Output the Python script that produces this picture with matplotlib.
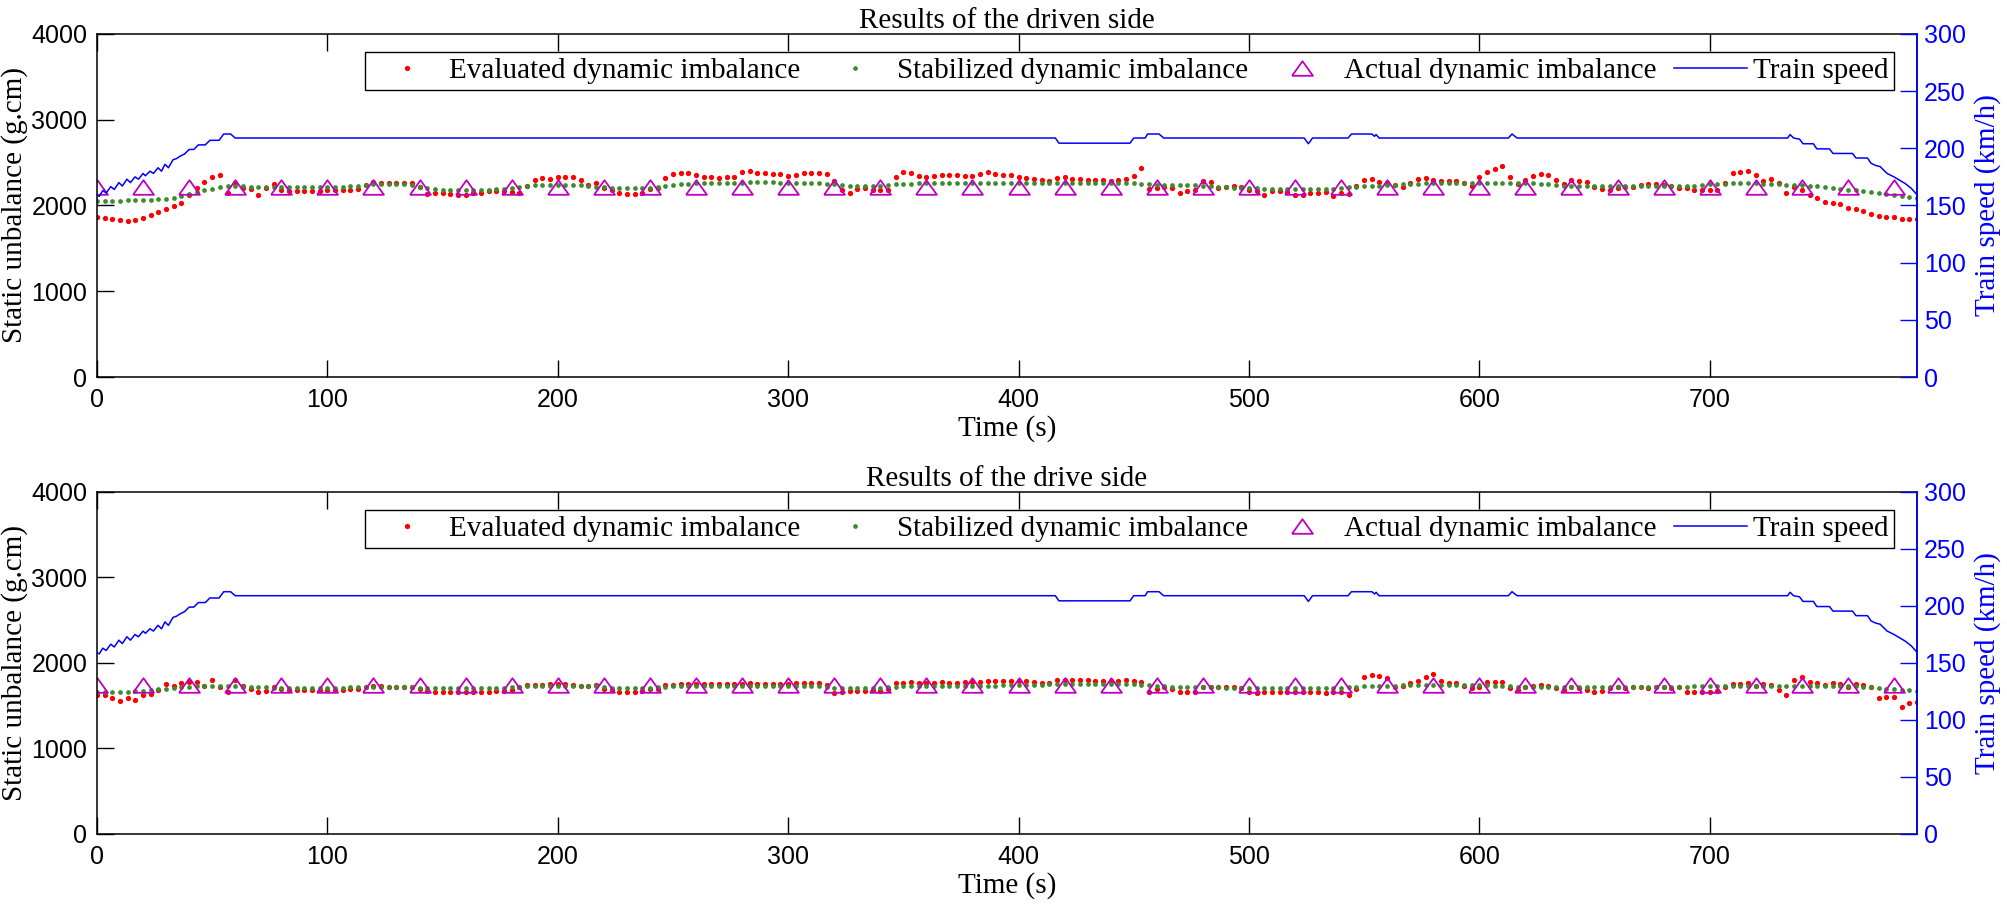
import numpy as np
import matplotlib
matplotlib.use("Agg")
import matplotlib.pyplot as plt

plt.rcParams['font.family'] = ['Liberation Sans', 'DejaVu Sans']
SERIF = 'Liberation Serif'

# sampling instants of the evaluated / stabilized estimates (every 10/3 s)
time = np.arange(238) * 10 / 3

# driven side, g.cm (6 values per 20 s)
driven_eval = [
    1870, 1855, 1840, 1825, 1820, 1830,  1855, 1885, 1920, 1955, 1990, 2030,
    2120, 2200, 2270, 2330, 2350, 2140,  2265, 2205, 2195, 2125, 2200, 2245,
    2175, 2165, 2165, 2165, 2170, 2170,  2175, 2178, 2180, 2182, 2190, 2235,
    2270, 2265, 2260, 2258, 2262, 2265,  2215, 2135, 2142, 2140, 2138, 2125,
    2128, 2140, 2150, 2165, 2172, 2170,  2160, 2150, 2225, 2295, 2315, 2310,
    2330, 2335, 2330, 2300, 2240, 2258,  2200, 2180, 2140, 2134, 2136, 2145,
    2195, 2200, 2320, 2370, 2383, 2380,  2356, 2330, 2328, 2320, 2328, 2330,
    2385, 2400, 2383, 2375, 2365, 2363,  2340, 2355, 2375, 2378, 2383, 2367,
    2290, 2180, 2140, 2190, 2200, 2185,  2180, 2175, 2330, 2385, 2380, 2340,
    2330, 2345, 2355, 2356, 2350, 2340,  2340, 2370, 2385, 2370, 2358, 2356,
    2328, 2320, 2305, 2295, 2280, 2325,  2328, 2305, 2305, 2297, 2297, 2297,
    2290, 2295, 2305, 2340, 2440, 2190,  2200, 2215, 2200, 2150, 2173, 2175,
    2280, 2270, 2205, 2220, 2227, 2220,  2180, 2172, 2125, 2172, 2172, 2162,
    2122, 2125, 2140, 2150, 2158, 2111,  2140, 2134, 2230, 2300, 2305, 2278,
    2260, 2240, 2210, 2260, 2310, 2320,  2300, 2288, 2280, 2286, 2260, 2225,
    2330, 2390, 2420, 2455, 2330, 2250,  2300, 2345, 2367, 2350, 2300, 2255,
    2300, 2285, 2270, 2215, 2190, 2175,  2205, 2210, 2220, 2235, 2255, 2245,
    2240, 2225, 2205, 2200, 2185, 2180,  2180, 2180, 2260, 2375, 2395, 2402,
    2360, 2290, 2310, 2260, 2150, 2215,  2185, 2122, 2090, 2040, 2030, 2015,
    1975, 1955, 1930, 1905, 1875, 1862,  1860, 1845, 1840, 1839,
]
driven_stab = [
    2055, 2055, 2058, 2058, 2060, 2062,  2065, 2068, 2072, 2078, 2090, 2105,
    2130, 2155, 2175, 2195, 2210, 2222,  2225, 2222, 2218, 2215, 2212, 2212,
    2210, 2210, 2212, 2214, 2215, 2215,  2215, 2216, 2220, 2225, 2232, 2240,
    2245, 2247, 2248, 2247, 2245, 2238,  2220, 2200, 2190, 2185, 2183, 2182,
    2180, 2180, 2182, 2185, 2188, 2192,  2200, 2215, 2228, 2236, 2240, 2240,
    2242, 2242, 2240, 2235, 2228, 2220,  2212, 2205, 2200, 2198, 2198, 2200,
    2205, 2215, 2225, 2235, 2245, 2252,  2258, 2262, 2265, 2266, 2266, 2266,
    2266, 2268, 2268, 2268, 2268, 2266,  2265, 2265, 2265, 2265, 2262, 2255,
    2245, 2235, 2228, 2225, 2225, 2228,  2232, 2238, 2245, 2250, 2255, 2258,
    2258, 2258, 2260, 2260, 2260, 2260,  2260, 2260, 2260, 2260, 2258, 2258,
    2258, 2258, 2258, 2260, 2262, 2264,  2266, 2266, 2266, 2266, 2266, 2266,
    2266, 2265, 2262, 2258, 2252, 2245,  2240, 2238, 2236, 2236, 2236, 2235,
    2230, 2225, 2218, 2210, 2205, 2202,  2200, 2198, 2196, 2194, 2192, 2190,
    2188, 2188, 2188, 2188, 2190, 2195,  2200, 2210, 2218, 2222, 2225, 2230,
    2235, 2240, 2245, 2250, 2254, 2257,  2258, 2258, 2258, 2258, 2260, 2262,
    2264, 2266, 2266, 2266, 2266, 2266,  2264, 2260, 2252, 2245, 2238, 2232,
    2228, 2226, 2225, 2224, 2224, 2224,  2225, 2225, 2226, 2226, 2226, 2226,
    2226, 2226, 2227, 2228, 2232, 2238,  2245, 2250, 2255, 2258, 2260, 2260,
    2258, 2255, 2250, 2245, 2240, 2240,  2240, 2232, 2225, 2215, 2205, 2195,
    2185, 2175, 2165, 2155, 2145, 2135,  2125, 2110, 2097, 2084,
]

# drive side, g.cm
drive_eval = [
    1630, 1620, 1595, 1560, 1590, 1567,  1620, 1638, 1684, 1754, 1731, 1770,
    1782, 1782, 1731, 1801, 1715, 1655,  1801, 1731, 1700, 1665, 1677, 1716,
    1690, 1680, 1684, 1680, 1684, 1680,  1680, 1684, 1684, 1690, 1700, 1715,
    1725, 1730, 1723, 1723, 1720, 1715,  1690, 1670, 1665, 1665, 1662, 1660,
    1660, 1660, 1665, 1665, 1668, 1670,  1680, 1720, 1740, 1745, 1745, 1750,
    1750, 1750, 1745, 1735, 1725, 1740,  1700, 1680, 1665, 1660, 1665, 1670,
    1690, 1700, 1740, 1745, 1750, 1750,  1754, 1754, 1750, 1754, 1758, 1754,
    1758, 1762, 1754, 1750, 1754, 1758,  1758, 1760, 1762, 1765, 1762, 1740,
    1653, 1660, 1677, 1677, 1670, 1680,  1677, 1700, 1770, 1770, 1775, 1770,
    1770, 1770, 1775, 1770, 1770, 1775,  1775, 1780, 1785, 1790, 1794, 1790,
    1790, 1785, 1775, 1765, 1760, 1800,  1801, 1805, 1801, 1798, 1795, 1795,
    1795, 1790, 1800, 1790, 1780, 1665,  1700, 1720, 1700, 1665, 1665, 1665,
    1723, 1723, 1720, 1723, 1723, 1710,  1665, 1650, 1665, 1660, 1665, 1660,
    1665, 1665, 1665, 1660, 1645, 1660,  1660, 1630, 1700, 1835, 1860, 1842,
    1829, 1723, 1731, 1770, 1790, 1833,  1868, 1793, 1770, 1762, 1731, 1705,
    1720, 1778, 1778, 1778, 1704, 1684,  1715, 1731, 1739, 1731, 1704, 1684,
    1723, 1704, 1684, 1665, 1677, 1710,  1716, 1710, 1720, 1716, 1712, 1718,
    1716, 1712, 1716, 1665, 1665, 1665,  1665, 1670, 1723, 1754, 1754, 1770,
    1730, 1754, 1743, 1684, 1626, 1801,  1833, 1782, 1762, 1743, 1762, 1754,
    1723, 1754, 1743, 1716, 1590, 1600,  1606, 1489, 1530, 1548,
]
drive_stab = [
    1665, 1665, 1665, 1665, 1665, 1668,  1672, 1680, 1690, 1700, 1712, 1720,
    1723, 1727, 1730, 1731, 1730, 1728,  1725, 1723, 1722, 1720, 1715, 1710,
    1705, 1704, 1704, 1704, 1704, 1705,  1706, 1708, 1710, 1714, 1718, 1721,
    1723, 1723, 1723, 1723, 1722, 1718,  1712, 1706, 1704, 1704, 1704, 1704,
    1704, 1704, 1704, 1705, 1708, 1712,  1718, 1724, 1729, 1731, 1731, 1731,
    1731, 1731, 1731, 1731, 1729, 1725,  1718, 1710, 1706, 1704, 1704, 1705,
    1708, 1714, 1720, 1726, 1730, 1731,  1731, 1732, 1733, 1733, 1732, 1731,
    1731, 1731, 1732, 1732, 1731, 1731,  1731, 1731, 1731, 1730, 1726, 1720,
    1712, 1706, 1704, 1704, 1704, 1706,  1710, 1716, 1722, 1727, 1730, 1731,
    1731, 1731, 1732, 1732, 1732, 1733,  1733, 1734, 1735, 1736, 1737, 1738,
    1740, 1742, 1745, 1748, 1751, 1753,  1754, 1754, 1755, 1755, 1755, 1754,
    1754, 1753, 1752, 1750, 1745, 1738,  1730, 1725, 1722, 1721, 1720, 1720,
    1720, 1718, 1714, 1710, 1707, 1705,  1704, 1704, 1704, 1704, 1704, 1704,
    1704, 1704, 1704, 1704, 1704, 1705,  1708, 1714, 1720, 1725, 1729, 1731,
    1733, 1736, 1739, 1741, 1742, 1743,  1743, 1743, 1743, 1743, 1742, 1741,
    1740, 1738, 1735, 1731, 1727, 1723,  1720, 1718, 1717, 1716, 1716, 1716,
    1716, 1716, 1716, 1716, 1716, 1716,  1716, 1716, 1716, 1716, 1717, 1718,
    1718, 1719, 1720, 1722, 1725, 1728,  1730, 1731, 1731, 1731, 1731, 1731,
    1731, 1731, 1731, 1731, 1731, 1731,  1731, 1731, 1731, 1731, 1730, 1730,
    1728, 1725, 1720, 1715, 1708, 1700,  1692, 1686, 1680, 1677,
]

# actual (reference) imbalance, measured every 20 s
actual_time = np.arange(0, 781, 20)
driven_actual = [2220] * 40
drive_actual = [1740] * 40

# train speed, km/h (vertices of the recorded curve)
speed_time = [0, 1, 2.5, 4, 6, 7.5, 9.5, 11, 13, 14.5, 16.5, 18, 20, 21, 23, 24.5,
              26.5, 28, 29.5, 31, 33, 34.5, 36, 38, 40, 42, 44, 47, 49, 53, 55, 58,
              60, 416, 417.5, 448.4, 450, 455, 456, 461, 463, 524, 525.8, 527.6,
              543, 544.5, 553.4, 554.5, 555.2, 556.5, 612.6, 614.2, 616.4, 733.8,
              734.9, 736.4, 739, 740.5, 745, 746.5, 752, 753.5, 762, 763.5, 768.5,
              770, 772, 774, 775.5, 777, 780, 782.5, 785, 787.5, 790.6]
speed = [159, 158, 163, 161, 166.5, 164, 170, 167, 173, 170, 175, 173, 178, 176, 180, 178,
         183, 180, 186, 183, 190, 191, 193, 195, 199, 199, 203, 203, 207, 207, 212.5, 212.5,
         209, 209, 204.5, 204.5, 209, 209, 212.5, 212.5, 209, 209, 204, 209,
         209, 212.5, 212.5, 210.5, 212, 209, 209, 212.5, 209, 209,
         212, 209, 208, 204, 204, 199.5, 199.5, 195.5, 195.5, 191.5, 191.5,
         187, 185, 184, 181, 178, 175, 172, 169, 165, 158]

RED = '#ff0000'
GREEN = '#3d8b2c'
MAGENTA = '#c000c0'
BLUE = '#0000ff'
tri = [(-1, -0.7), (1, -0.7), (0, 0.7), (-1, -0.7)]


def draw_panel(ax, title, ev, st, act):
    ax.plot(time, ev, 'o', ms=3.8, color=RED, mec='none',
            label='Evaluated dynamic imbalance')
    ax.plot(time, st, 'o', ms=3.4, color=GREEN, mec='none',
            label='Stabilized dynamic imbalance')
    ax.plot(actual_time, act, ls='none', marker=tri, ms=15, mfc='none',
            mec=MAGENTA, mew=1.3, label='Actual dynamic imbalance')
    ax.set_xlim(0, 790)
    ax.set_ylim(0, 4000)
    ax.set_xticks(np.arange(0, 701, 100))
    ax.set_yticks(np.arange(0, 4001, 1000))
    ax.tick_params(axis='x', direction='in', top=True, length=12, width=1.0,
                   labelsize=18, pad=8)
    ax.tick_params(axis='y', direction='in', right=False, length=12, width=1.0,
                   labelsize=18, pad=7)
    for s in ax.spines.values():
        s.set_linewidth(1.1)
    ax.set_xlabel('Time (s)', fontfamily=SERIF, fontsize=21, labelpad=2)
    ax.set_ylabel('Static unbalance (g.cm)', fontfamily=SERIF, fontsize=21,
                  labelpad=2)
    ax.set_title(title, fontfamily=SERIF, fontsize=21, pad=3)

    ax2 = ax.twinx()
    ax2.plot(speed_time, speed, color=BLUE, lw=1.1, label='Train speed')
    ax2.set_ylim(0, 300)
    ax2.set_yticks(np.arange(0, 301, 50))
    ax2.tick_params(axis='y', direction='in', length=12, width=1.0,
                    labelsize=18, pad=5, colors=BLUE)
    for name, s in ax2.spines.items():
        s.set_visible(name == 'right')
    ax2.spines['right'].set_color(BLUE)
    ax2.spines['right'].set_linewidth(1.1)
    ax2.set_ylabel('Train speed (km/h)', fontfamily=SERIF, fontsize=21,
                   color=BLUE, labelpad=6)

    h1, l1 = ax.get_legend_handles_labels()
    h2, l2 = ax2.get_legend_handles_labels()
    leg = ax2.legend(h1 + h2, l1 + l2, ncol=4, loc='upper right',
                     bbox_to_anchor=(0.9875, 0.948), prop={'family': SERIF, 'size': 21},
                     frameon=True, fancybox=False, edgecolor='black', framealpha=1,
                     borderpad=0.2, handlelength=2.5, handletextpad=0.2,
                     columnspacing=0.6, borderaxespad=0)
    leg.get_frame().set_linewidth(1.0)


fig = plt.figure(figsize=(20.08, 9.08), dpi=100)
ax_top = fig.add_axes([0.0483, 0.5848, 0.9064, 0.3778])
ax_bot = fig.add_axes([0.0483, 0.0815, 0.9064, 0.3767])

draw_panel(ax_top, 'Results of the driven side', driven_eval, driven_stab, driven_actual)
draw_panel(ax_bot, 'Results of the drive side', drive_eval, drive_stab, drive_actual)

fig.savefig('out.png', dpi=100)
